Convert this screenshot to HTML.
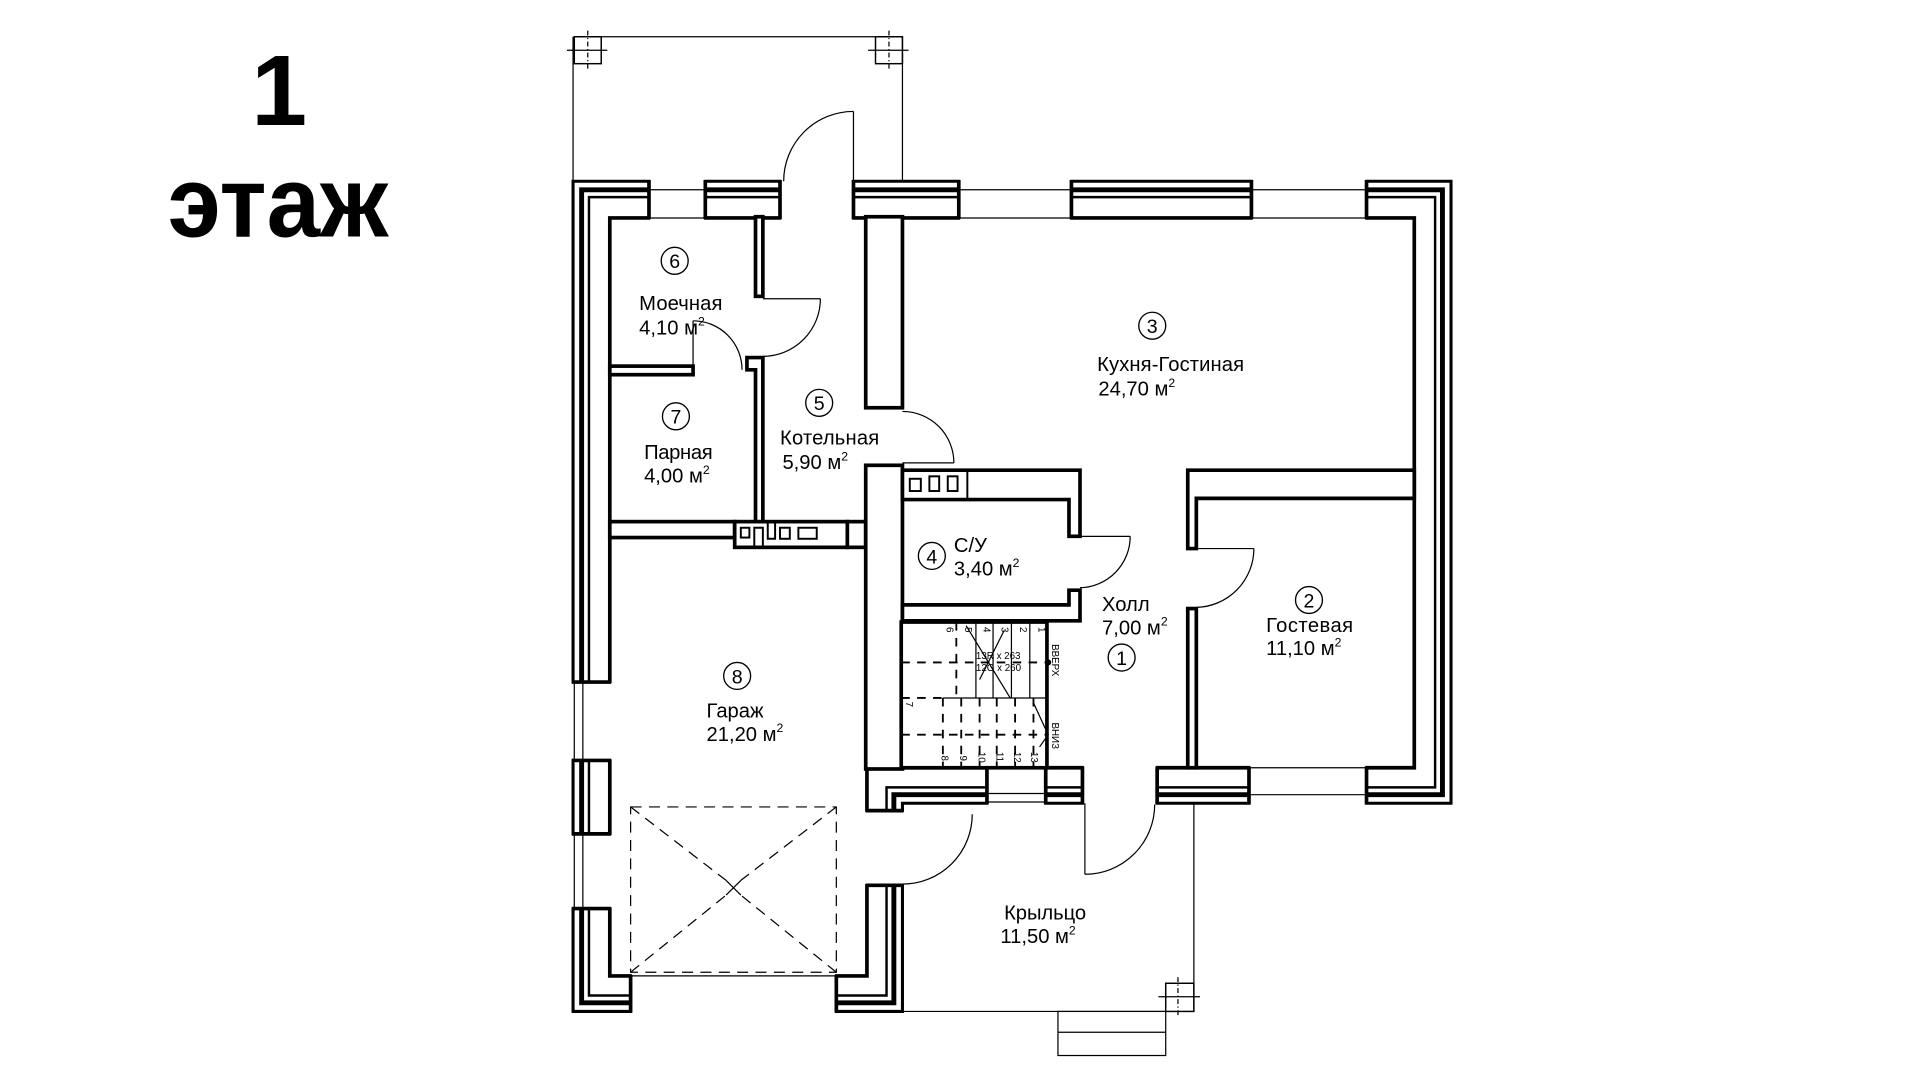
<!DOCTYPE html>
<html><head><meta charset="utf-8"><style>
html,body{margin:0;padding:0;background:#fff;width:1920px;height:1080px;overflow:hidden}
svg{display:block}
text{font-family:"Liberation Sans",Arial,sans-serif;fill:#000}
</style></head><body>
<svg width="1920" height="1080" viewBox="0 0 1568 882" xmlns="http://www.w3.org/2000/svg">
<rect width="1568" height="882" fill="#fff"/>
<text x="228" y="102" font-size="82" font-weight="bold" text-anchor="middle">1</text>
<text x="137" y="193" font-size="82" font-weight="bold" textLength="180" lengthAdjust="spacingAndGlyphs">этаж</text>

<g fill="none" stroke="#000" stroke-linejoin="miter">
<line x1="480" y1="30" x2="737" y2="30" stroke-width="1"/>
<line x1="468" y1="30" x2="468" y2="148" stroke-width="1"/>
<line x1="737" y1="30" x2="737" y2="148" stroke-width="1"/>
<rect x="469" y="30" width="22" height="22" stroke-width="1.2"/>
<line x1="463" y1="41" x2="496" y2="41" stroke-width="1"/><line x1="480" y1="25" x2="480" y2="57" stroke-width="1" stroke-dasharray="4,2,1,2"/>
<rect x="715" y="30" width="22" height="22" stroke-width="1.2"/>
<line x1="709" y1="41" x2="742" y2="41" stroke-width="1"/><line x1="726" y1="25" x2="726" y2="57" stroke-width="1" stroke-dasharray="4,2,1,2"/>

<polygon points="468,826 468,148 1185,148 1185,656 737,656 737,826" stroke-width="2.5"/>
<polygon points="475,819 475,155 1178,155 1178,649 730,649 730,819" stroke-width="4"/>
<polygon points="481,813 481,161 1172,161 1172,643 724,643 724,813" stroke-width="2"/>
<polygon points="498,797 498,178 1155,178 1155,627 708,627 708,797" stroke-width="3"/>
</g>

<g fill="#fff" stroke="none">
<rect x="531" y="144" width="44" height="37"/>
<rect x="638" y="144" width="58" height="37"/>
<rect x="784" y="144" width="90" height="37"/>
<rect x="1023" y="144" width="92" height="37"/>
<rect x="464" y="558" width="37" height="62"/>
<rect x="464" y="682" width="37" height="59"/>
<rect x="807" y="624" width="46" height="36"/>
<rect x="885" y="624" width="59" height="36"/>
<rect x="1021" y="624" width="94" height="36"/>
<rect x="704" y="663" width="37" height="59"/>
<rect x="516" y="794" width="166" height="36"/>
</g>

<g stroke="#000" fill="none">
<g stroke-width="3">
<line x1="530" y1="147" x2="530" y2="179"/><line x1="576" y1="147" x2="576" y2="179"/>
<line x1="637" y1="147" x2="637" y2="179"/><line x1="697" y1="147" x2="697" y2="179"/>
<line x1="783" y1="147" x2="783" y2="179"/><line x1="875" y1="147" x2="875" y2="179"/>
<line x1="1022" y1="147" x2="1022" y2="179"/><line x1="1116" y1="147" x2="1116" y2="179"/>
<line x1="467" y1="557" x2="499" y2="557"/><line x1="467" y1="621" x2="499" y2="621"/>
<line x1="467" y1="681" x2="499" y2="681"/><line x1="467" y1="742" x2="499" y2="742"/>
<line x1="806" y1="626" x2="806" y2="657"/><line x1="854" y1="626" x2="854" y2="657"/>
<line x1="884" y1="626" x2="884" y2="657"/><line x1="945" y1="626" x2="945" y2="657"/>
<line x1="1020" y1="626" x2="1020" y2="657"/><line x1="1116" y1="626" x2="1116" y2="657"/>
<line x1="707" y1="662" x2="738" y2="662"/><line x1="707" y1="723" x2="738" y2="723"/>
<line x1="515" y1="796" x2="515" y2="827"/><line x1="683" y1="796" x2="683" y2="827"/>
</g>
<g stroke-width="1">
<line x1="530" y1="155" x2="576" y2="155"/><line x1="530" y1="178" x2="576" y2="178"/>
<line x1="783" y1="155" x2="875" y2="155"/><line x1="783" y1="178" x2="875" y2="178"/>
<line x1="1022" y1="155" x2="1116" y2="155"/><line x1="1022" y1="178" x2="1116" y2="178"/>
<line x1="469" y1="557" x2="469" y2="621"/><line x1="476" y1="557" x2="476" y2="621"/>
<line x1="469" y1="681" x2="469" y2="742"/><line x1="476" y1="681" x2="476" y2="742"/>
<line x1="806" y1="648" x2="854" y2="648"/><line x1="806" y1="655" x2="854" y2="655"/>
<line x1="1020" y1="627" x2="1116" y2="627"/><line x1="1020" y1="649" x2="1116" y2="649"/>
<line x1="515" y1="797" x2="683" y2="797"/>
</g>
</g>

<g fill="#fff" stroke="#000" stroke-width="3">
<rect x="617" y="177" width="6" height="65"/>
<polygon points="617,292 623,292 623,428 617,428 617,302 610,302 610,292"/>
<rect x="498" y="299" width="68" height="7"/>
<rect x="498" y="426" width="102" height="13"/>
<rect x="600" y="426" width="92" height="21"/>
<rect x="692" y="426" width="15" height="21"/>
<rect x="707" y="177" width="30" height="156"/>
<rect x="707" y="380" width="30" height="248"/>
<polygon points="737,384 882,384 882,438 873,438 873,408 737,408"/>
<polygon points="737,494 873,494 873,482 882,482 882,507 737,507"/>
<polygon points="970,384 1155,384 1155,407 977,407 977,448 970,448"/>
<rect x="970" y="497" width="7" height="130"/>
</g>
<g fill="none" stroke="#000" stroke-width="1.6">
<line x1="790" y1="384" x2="790" y2="408"/>
<rect x="743" y="391" width="9" height="10"/><rect x="759" y="389" width="8" height="12"/><rect x="774" y="389" width="8" height="12"/>
<rect x="605" y="431" width="7" height="8"/><path d="M616,447 V431 H623 V447"/><path d="M627,427 V440 H633 V427"/>
<rect x="637" y="431" width="8" height="9"/><rect x="652" y="431" width="15" height="9"/>
</g>

<g fill="none" stroke="#000" stroke-width="1">
<line x1="697" y1="148" x2="697" y2="91"/><path d="M697,91 A57,57 0 0 0 640,148"/>
<line x1="623" y1="244" x2="670" y2="244"/><path d="M670,244 A47,47 0 0 1 623,291"/>
<line x1="566" y1="300" x2="566" y2="262"/><path d="M566,262 A40,40 0 0 1 606,302"/>
<line x1="737" y1="378" x2="779" y2="378"/><path d="M737,336 A42,42 0 0 1 779,378"/>
<line x1="882" y1="438" x2="923" y2="438"/><path d="M923,438 A42,42 0 0 1 882,480"/>
<line x1="977" y1="448" x2="1024" y2="448"/><path d="M1024,448 A48,48 0 0 1 977,496"/>
<line x1="886" y1="656" x2="886" y2="714"/><path d="M886,714 A57,57 0 0 0 943,657"/>
<path d="M794,665 A57,57 0 0 1 737,722"/>
</g>

<g fill="none" stroke="#000" stroke-width="1" stroke-dasharray="9,6">
<rect x="515" y="659" width="168" height="135"/>
<line x1="515" y1="659" x2="593" y2="719"/><line x1="683" y1="659" x2="605" y2="719"/>
<line x1="515" y1="794" x2="593" y2="731"/><line x1="683" y1="794" x2="605" y2="731"/>
</g>
<g stroke="#000" stroke-width="1"><line x1="593" y1="719" x2="605" y2="731"/><line x1="605" y1="719" x2="593" y2="731"/></g>

<g fill="none" stroke="#000" stroke-width="1">
<line x1="737" y1="826" x2="952" y2="826"/>
<line x1="975" y1="656" x2="975" y2="826"/>
<rect x="952" y="803" width="23" height="23" stroke-width="1.2"/>
<line x1="946" y1="814" x2="980" y2="814"/><line x1="962" y1="798" x2="962" y2="831" stroke-dasharray="4,2,1,2"/>
<rect x="864" y="826" width="88" height="36"/>
<line x1="864" y1="843" x2="952" y2="843"/>
</g>

<g fill="none" stroke="#000">
<rect x="736" y="508" width="119" height="119" stroke-width="3" fill="#fff"/>
<g stroke-width="1">
<line x1="797" y1="508" x2="797" y2="570"/><line x1="811" y1="508" x2="811" y2="570"/><line x1="826" y1="508" x2="826" y2="570"/><line x1="841" y1="508" x2="841" y2="570"/>
<line x1="855" y1="508" x2="855" y2="627"/>
<line x1="770" y1="570" x2="855" y2="570"/>
<line x1="789" y1="511" x2="825" y2="570"/>
<line x1="820" y1="515" x2="800" y2="555"/>
<polyline points="844,574 856,600 849,610"/>
</g>
<g stroke-width="1.5" stroke-dasharray="7,6">
<line x1="781" y1="508" x2="781" y2="570"/>
<line x1="736" y1="541" x2="855" y2="541"/>
<line x1="736" y1="570" x2="770" y2="570"/>
<line x1="736" y1="600" x2="855" y2="600"/>
<line x1="770" y1="570" x2="770" y2="627"/><line x1="785" y1="570" x2="785" y2="627"/><line x1="800" y1="570" x2="800" y2="627"/>
<line x1="814" y1="570" x2="814" y2="627"/><line x1="829" y1="570" x2="829" y2="627"/><line x1="844" y1="570" x2="844" y2="627"/>
</g>
<circle cx="856" cy="541" r="2.5" fill="#000" stroke="none"/>
</g>
<g font-size="8">
<text transform="translate(773,512) rotate(90)">6</text><text transform="translate(788,512) rotate(90)">5</text>
<text transform="translate(803,512) rotate(90)">4</text><text transform="translate(818,512) rotate(90)">3</text>
<text transform="translate(833,512) rotate(90)">2</text><text transform="translate(848,512) rotate(90)">1</text>
<text transform="translate(769,617) rotate(90)">8</text><text transform="translate(784,617) rotate(90)">9</text>
<text transform="translate(799,614) rotate(90)">10</text><text transform="translate(814,614) rotate(90)">11</text>
<text transform="translate(828,614) rotate(90)">12</text><text transform="translate(842,614) rotate(90)">13</text>
<text transform="translate(740,573) rotate(90)">7</text>
<text transform="translate(859,526) rotate(90)">ВВЕРХ</text>
<text transform="translate(859,590) rotate(90)">ВНИЗ</text>
<text x="797" y="538">13R x 263</text>
<text x="797" y="548">12G x 260</text>
</g>

<g fill="none" stroke="#000" stroke-width="1.1">
<circle cx="551" cy="213" r="11"/><circle cx="552" cy="340" r="11"/><circle cx="669" cy="329" r="11"/>
<circle cx="941" cy="266" r="11"/><circle cx="761" cy="454" r="11"/><circle cx="916" cy="537" r="11"/>
<circle cx="1069" cy="490" r="11"/><circle cx="602" cy="552" r="11"/>
</g>
<g font-size="16" text-anchor="middle">
<text x="551" y="219">6</text><text x="552" y="346">7</text><text x="669" y="335">5</text>
<text x="941" y="272">3</text><text x="761" y="460">4</text><text x="916" y="543">1</text>
<text x="1069" y="496">2</text><text x="602" y="558">8</text>
</g>
<g font-size="16.5">
<text x="522" y="253" textLength="68">Моечная</text><text x="522" y="273">4,10 м<tspan font-size="10" dy="-7">2</tspan></text>
<text x="526" y="375" textLength="56">Парная</text><text x="526" y="394">4,00 м<tspan font-size="10" dy="-7">2</tspan></text>
<text x="637" y="363" textLength="81">Котельная</text><text x="639" y="383">5,90 м<tspan font-size="10" dy="-7">2</tspan></text>
<text x="896" y="303" textLength="120">Кухня-Гостиная</text><text x="897" y="323">24,70  м<tspan font-size="10" dy="-7">2</tspan></text>
<text x="779" y="451">С/У</text><text x="779" y="470">3,40 м<tspan font-size="10" dy="-7">2</tspan></text>
<text x="900" y="499">Холл</text><text x="900" y="518">7,00 м<tspan font-size="10" dy="-7">2</tspan></text>
<text x="1034" y="516" textLength="71">Гостевая</text><text x="1034" y="535">11,10  м<tspan font-size="10" dy="-7">2</tspan></text>
<text x="577" y="586">Гараж</text><text x="577" y="605">21,20  м<tspan font-size="10" dy="-7">2</tspan></text>
<text x="820" y="751" textLength="67">Крыльцо</text><text x="817" y="770">11,50  м<tspan font-size="10" dy="-7">2</tspan></text>
</g>
</svg>
</body></html>
